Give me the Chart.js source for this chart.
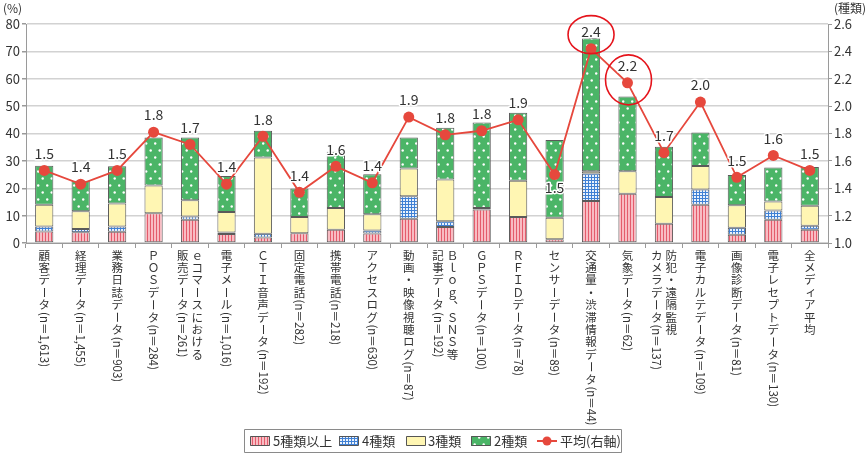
<!DOCTYPE html>
<html>
<head>
<meta charset="utf-8">
<script src="https://cdn.jsdelivr.net/npm/chart.js@4.4.1/dist/chart.umd.min.js"></script>
<style>
  html, body { margin: 0; padding: 0; background: #fff; }
  #wrap { width: 867px; height: 455px; }
</style>
</head>
<body>
<div id="wrap"><canvas id="chart" width="867" height="455"></canvas></div>
<script>
// categories: each entry = vertical text columns (first column drawn on the right)
const categories = [
  ["顧客データ(n＝1,613)"],
  ["経理データ(n＝1,455)"],
  ["業務日誌データ(n＝903)"],
  ["ＰＯＳデータ(n＝284)"],
  ["ｅコマースにおける", "販売データ(n＝261)"],
  ["電子メール(n＝1,016)"],
  ["ＣＴＩ音声データ(n＝192)"],
  ["固定電話(n＝282)"],
  ["携帯電話(n＝218)"],
  ["アクセスログ(n＝630)"],
  ["動画・映像視聴ログ(n＝87)"],
  ["Ｂｌｏｇ、ＳＮＳ等", "記事データ(n＝192)"],
  ["ＧＰＳデータ(n＝100)"],
  ["ＲＦＩＤデータ(n＝78)"],
  ["センサーデータ(n＝89)"],
  ["交通量・渋滞情報データ(n＝44)"],
  ["気象データ(n＝62)"],
  ["防犯・遠隔監視", "カメラデータ(n＝137)"],
  ["電子カルテデータ(n＝109)"],
  ["画像診断データ(n＝81)"],
  ["電子レセプトデータ(n＝130)"],
  ["全メディア平均"]
];

// % of companies, by number of data kinds used
const fivePlus = [4.2, 3.9, 4.1, 10.9, 8.5, 3.3, 2.0, 3.6, 4.8, 3.5, 8.9, 5.8, 12.2, 9.5, 1.4, 15.3, 18.0, 7.0, 14.0, 3.0, 8.5, 4.8];
const four     = [1.8, 1.2, 1.9, 0, 1.2, 0.5, 1.4, 0, 0, 1.1, 8.2, 2.1, 0, 0, 0, 10.1, 0, 0, 5.5, 2.6, 3.4, 1.5];
const three    = [8.0, 6.5, 8.4, 10.1, 5.9, 7.5, 27.8, 5.9, 8.0, 5.9, 10.1, 15.3, 0.6, 13.2, 7.8, 0.8, 8.2, 9.8, 8.6, 8.2, 3.3, 7.3];
const two      = [14.2, 11.1, 13.6, 17.5, 22.9, 13.2, 9.8, 10.4, 20.5, 14.6, 11.3, 18.9, 31.2, 24.9, 28.4, 48.6, 27.3, 18.4, 12.3, 11.0, 12.4, 14.2];

// average number of kinds (right axis)
const average = [1.53, 1.43, 1.53, 1.81, 1.72, 1.43, 1.78, 1.37, 1.56, 1.44, 1.92, 1.79, 1.82, 1.90, 1.50, 2.42, 2.17, 1.66, 2.03, 1.48, 1.64, 1.53];
const averageLabels = ["1.5", "1.4", "1.5", "1.8", "1.7", "1.4", "1.8", "1.4", "1.6", "1.4", "1.9", "1.8", "1.8", "1.9", "1.5", "2.4", "2.2", "1.7", "2.0", "1.5", "1.6", "1.5"];

const leftTicks = [0, 10, 20, 30, 40, 50, 60, 70, 80];
const rightTicks = [1.0, 1.2, 1.4, 1.6, 1.8, 2.0, 2.2, 2.4, 2.6];
const circled = [15, 16];

const FONT = "'Noto Sans CJK JP', 'Noto Sans', sans-serif";
const TEXT = "#333";
const RED = "#e6483d";

// --- fill patterns ---
function makePattern(w, h, draw) {
  const c = document.createElement("canvas");
  c.width = w; c.height = h;
  const g = c.getContext("2d");
  draw(g);
  return g.createPattern(c, "repeat");
}
const ctxMain = document.getElementById("chart").getContext("2d");

const stripePat = makePattern(3, 3, g => {
  g.fillStyle = "#f8bcc3"; g.fillRect(0, 0, 3, 3);
  g.fillStyle = "#e45c6c"; g.fillRect(0, 0, 1, 3);
});
const gridPat = makePattern(3, 3, g => {
  g.fillStyle = "#eaf2fc"; g.fillRect(0, 0, 3, 3);
  g.fillStyle = "#3f80d4"; g.fillRect(0, 0, 3, 1); g.fillRect(0, 0, 1, 3);
});
const yellowFill = "#fff6b3";
const dotPat = makePattern(9, 14, g => {
  g.fillStyle = "#4bb567"; g.fillRect(0, 0, 9, 14);
  g.fillStyle = "#ffffff";
  g.beginPath(); g.arc(2.2, 3.5, 1.2, 0, Math.PI * 2); g.fill();
  g.beginPath(); g.arc(6.7, 10.5, 1.2, 0, Math.PI * 2); g.fill();
});

// --- vertical (tategaki) text ---
function isRotated(ch) {
  return ch.charCodeAt(0) < 0x2000 || ch === "＝";
}
function drawVertical(ctx, text, cx, y0, step) {
  let y = y0;
  let i = 0;
  while (i < text.length) {
    const ch = text[i];
    if (isRotated(ch)) {
      let run = "";
      while (i < text.length && isRotated(text[i])) { run += text[i]; i++; }
      const w = ctx.measureText(run).width;
      ctx.save();
      ctx.translate(cx, y + 1);
      ctx.rotate(Math.PI / 2);
      ctx.textAlign = "left";
      ctx.textBaseline = "middle";
      ctx.fillText(run, 0, 0);
      ctx.restore();
      y += w + 1;
      continue;
    }
    ctx.save();
    ctx.textAlign = "center";
    ctx.textBaseline = "middle";
    if (ch === "ー") {
      ctx.translate(cx, y + step / 2);
      ctx.rotate(Math.PI / 2);
      ctx.fillText(ch, 0, 0);
    } else if (ch === "、") {
      ctx.fillText(ch, cx + step * 0.55, y + step * 0.0);
    } else if (ch === "ィ") {
      ctx.fillText(ch, cx + step * 0.1, y + step * 0.4);
    } else {
      ctx.fillText(ch, cx, y + step / 2);
    }
    ctx.restore();
    y += step;
    i++;
  }
}

const decorations = {
  id: "decorations",
  afterDraw(chart) {
    const ctx = chart.ctx;
    const xs = chart.scales.x;
    ctx.save();

    // axis units
    ctx.fillStyle = TEXT;
    ctx.font = "12px " + FONT;
    ctx.textBaseline = "top";
    ctx.textAlign = "left";
    ctx.fillText("(%)", 3, 2);
    ctx.textAlign = "right";
    ctx.fillText("(種類)", 866, 2);

    // category labels, vertical
    ctx.font = "11.5px " + FONT;
    ctx.fillStyle = TEXT;
    categories.forEach((cols, i) => {
      const x = xs.getPixelForValue(i);
      const k = cols.length;
      cols.forEach((txt, j) => {
        const cx = x + ((k - 1) / 2 - j) * 14.5;
        drawVertical(ctx, txt, cx, 249, 12.4);
      });
    });

    // value labels for average line
    const meta = chart.getDatasetMeta(4);
    ctx.font = "14px " + FONT;
    ctx.textAlign = "center";
    ctx.textBaseline = "middle";
    ctx.lineJoin = "round";
    meta.data.forEach((p, i) => {
      const below = i === 14;
      const ty = below ? p.y + 13 : p.y - 17;
      ctx.strokeStyle = "#fff";
      ctx.lineWidth = 3;
      ctx.strokeText(averageLabels[i], p.x, ty);
      ctx.fillStyle = TEXT;
      ctx.fillText(averageLabels[i], p.x, ty);
    });

    // red highlight circles
    ctx.strokeStyle = "#e5141c";
    ctx.lineWidth = 1.6;
    const p1 = meta.data[circled[0]];
    ctx.beginPath(); ctx.ellipse(p1.x, p1.y - 14, 23, 19, 0, 0, Math.PI * 2); ctx.stroke();
    const p2 = meta.data[circled[1]];
    ctx.beginPath(); ctx.ellipse(p2.x + 1, p2.y - 3, 23, 25, 0, 0, Math.PI * 2); ctx.stroke();

    // legend
    const lx = 244, ly = 429, lw = 377, lh = 23;
    ctx.strokeStyle = "#8a8a8a";
    ctx.lineWidth = 1;
    ctx.strokeRect(lx + 0.5, ly + 0.5, lw, lh);
    ctx.font = "13px " + FONT;
    ctx.textAlign = "left";
    ctx.textBaseline = "middle";
    const cy = ly + lh / 2 + 0.5;
    const items = [
      { x: 250, tx: 273, ds: 0 },
      { x: 339, tx: 362, ds: 1 },
      { x: 406, tx: 428, ds: 2 },
      { x: 471, tx: 494, ds: 3 }
    ];
    items.forEach(it => {
      const ds = chart.data.datasets[it.ds];
      ctx.fillStyle = ds.backgroundColor;
      ctx.fillRect(it.x, cy - 5, 20, 10);
      ctx.strokeStyle = "#555";
      ctx.strokeRect(it.x + 0.5, cy - 5 + 0.5, 19, 9);
      ctx.fillStyle = TEXT;
      ctx.fillText(ds.label, it.tx, cy);
    });
    ctx.strokeStyle = RED;
    ctx.lineWidth = 2;
    ctx.beginPath(); ctx.moveTo(537, cy); ctx.lineTo(557, cy); ctx.stroke();
    ctx.fillStyle = RED;
    ctx.beginPath(); ctx.arc(547, cy, 4.5, 0, Math.PI * 2); ctx.fill();
    ctx.fillStyle = TEXT;
    ctx.fillText(chart.data.datasets[4].label, 560, cy);

    ctx.restore();
  }
};

const barCommon = {
  type: "bar",
  stack: "s",
  yAxisID: "y",
  borderColor: "#5a5a5a",
  borderWidth: 1,
  borderSkipped: false,
  barPercentage: 0.5,
  categoryPercentage: 1.0,
  order: 1
};

new Chart(ctxMain, {
  data: {
    labels: categories,
    datasets: [
      { ...barCommon, label: "5種類以上", data: fivePlus, backgroundColor: stripePat },
      { ...barCommon, label: "4種類", data: four, backgroundColor: gridPat },
      { ...barCommon, label: "3種類", data: three, backgroundColor: yellowFill },
      { ...barCommon, label: "2種類", data: two, backgroundColor: dotPat },
      {
        type: "line",
        label: "平均(右軸)",
        data: average,
        yAxisID: "y1",
        borderColor: RED,
        backgroundColor: RED,
        borderWidth: 1.8,
        pointRadius: 5.5,
        pointBackgroundColor: RED,
        pointBorderWidth: 0,
        tension: 0,
        order: 0
      }
    ]
  },
  options: {
    responsive: false,
    animation: false,
    devicePixelRatio: 1,
    layout: { padding: { top: 24, left: 0, right: 0, bottom: 0 } },
    plugins: {
      legend: { display: false },
      tooltip: { enabled: false }
    },
    scales: {
      x: {
        stacked: true,
        offset: true,
        ticks: { display: false },
        grid: { offset: true, drawOnChartArea: false, drawTicks: true, tickLength: 5, color: "#9a9a9a" },
        border: { color: "#9a9a9a" },
        afterFit: s => { s.height = 212; }
      },
      y: {
        stacked: true,
        position: "left",
        min: 0,
        max: 80,
        afterBuildTicks: s => { s.ticks = leftTicks.map(v => ({ value: v })); },
        ticks: { color: TEXT, font: { size: 13, family: FONT }, padding: 2 },
        grid: { color: "#d2d2d2", lineWidth: 1.5, tickLength: 4, tickColor: "#9a9a9a" },
        border: { color: "#9a9a9a", display: true },
        afterFit: s => { s.width = 26; }
      },
      y1: {
        position: "right",
        min: 1.0,
        max: 2.6,
        afterBuildTicks: s => { s.ticks = rightTicks.map(v => ({ value: v })); },
        ticks: { color: TEXT, font: { size: 13, family: FONT }, padding: 2, callback: v => v.toFixed(1) },
        grid: { drawOnChartArea: false, tickLength: 4, color: "#9a9a9a" },
        border: { color: "#9a9a9a" },
        afterFit: s => { s.width = 39; }
      }
    }
  },
  plugins: [decorations]
});
</script>
</body>
</html>
